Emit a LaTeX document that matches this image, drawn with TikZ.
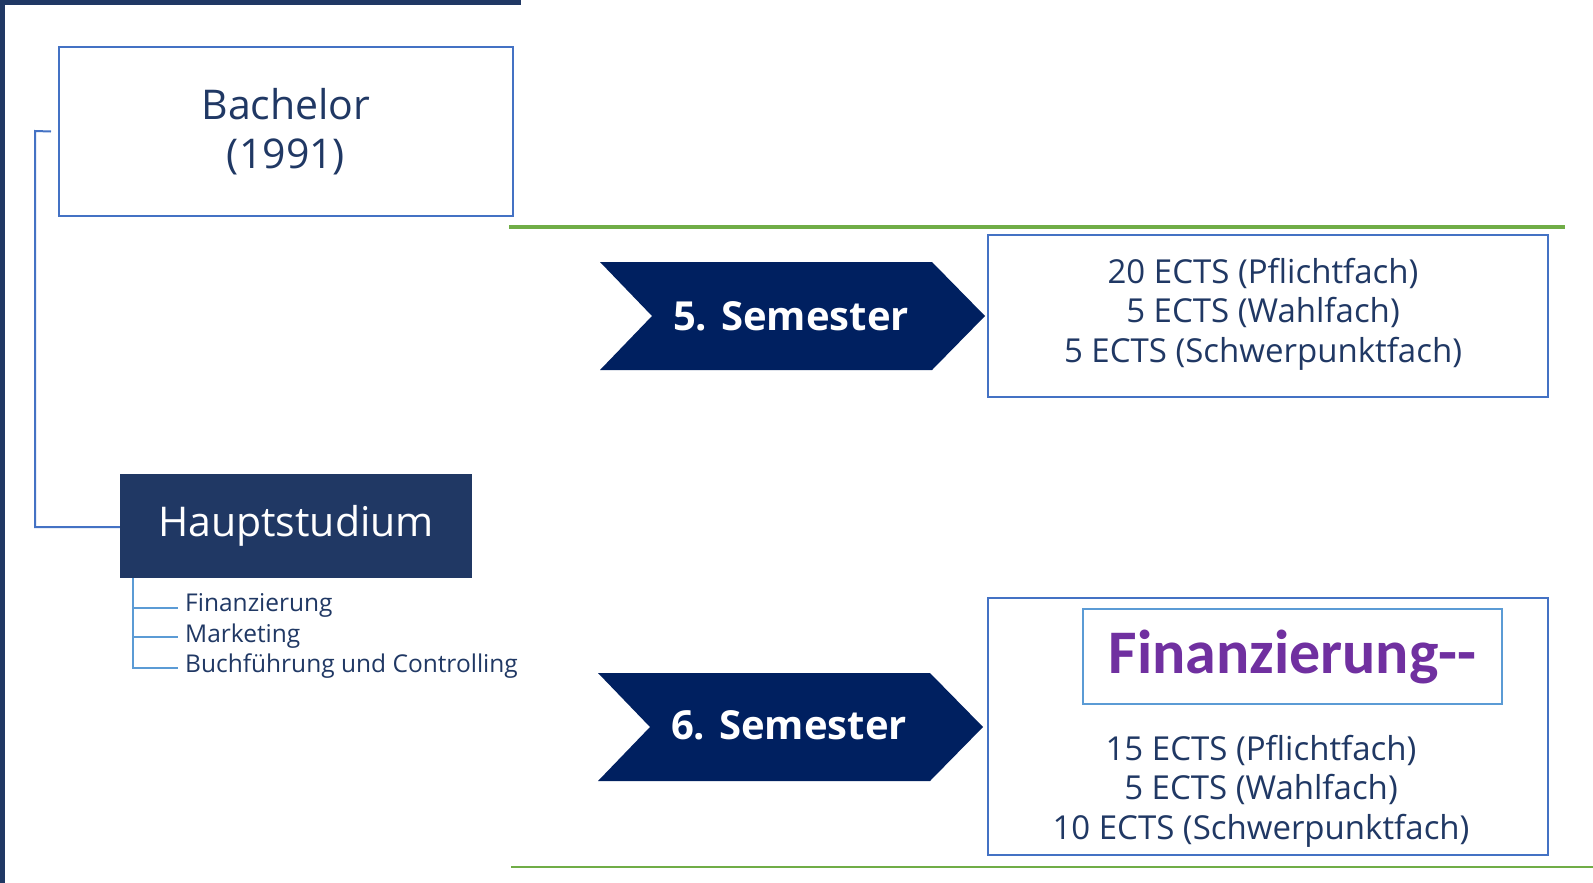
\documentclass[tikz,border=0pt]{standalone}
\usepackage{fontspec}
\setmainfont{Open Sans}
\newfontfamily\calib{Carlito}
\definecolor{navy}{HTML}{203864}
\definecolor{chev}{HTML}{002060}
\definecolor{boxblue}{HTML}{4472C4}
\definecolor{lightblue}{HTML}{5B9BD5}
\definecolor{grn}{HTML}{70AD47}
\definecolor{purp}{HTML}{7030A0}
\tikzset{
  outbox/.style={draw=boxblue, line width=2pt, rectangle, inner sep=0pt, align=center, text=navy},
  chevtext/.style={text=white, font=\fontsize{40}{46}\selectfont\bfseries},
  ectstext/.style={text=navy, align=center, font=\fontsize{33}{39.5}\selectfont},
  subtext/.style={text=navy, anchor=west, inner sep=0pt, font=\fontsize{24.5}{28}\selectfont},
  conn/.style={draw=boxblue, line width=2pt},
  subconn/.style={draw=lightblue, line width=1.8pt},
}
\begin{document}
\begin{tikzpicture}[x=1pt,y=-1pt]
\useasboundingbox (0,0) rectangle (1593,883);
\fill[white] (0,0) rectangle (1593,883);
% frame bars
\fill[navy] (0,0) rectangle (521,5);
\fill[navy] (0,0) rectangle (5,883);
% green lines
\draw[grn, line width=4pt] (509,227) -- (1565,227);
\draw[grn, line width=2pt] (511,867) -- (1593,867);
% Bachelor box
\node[outbox, minimum width=454pt, minimum height=169pt, font=\fontsize{41}{49}\selectfont] (bach) at (286,131.5) {Bachelor\\(1991)};
% Hauptstudium
\node[rectangle, fill=navy, minimum width=352pt, minimum height=104pt, inner sep=0pt, text=white, font=\fontsize{41}{48}\selectfont] (haupt) at (296,526) {Hauptstudium};
% connector bachelor -> haupt
\coordinate (c1) at (35,131);
\coordinate (c2) at (35,527);
\draw[conn] ([xshift=-7pt]bach.west) -- (c1) -- (c2) -- (haupt.west |- c2);
% sub items
\node[subtext] (s1) at (185,605) {Finanzierung};
\node[subtext] (s2) at (185,636) {Marketing};
\node[subtext] (s3) at (185,666) {Buchführung und Controlling};
\coordinate (v0) at (133,578);
\coordinate (b1) at (133,608);
\coordinate (b2) at (133,637);
\coordinate (b3) at (133,668);
\coordinate (e1) at (178,608);
\coordinate (e2) at (178,637);
\coordinate (e3) at (178,668);
\draw[subconn] (v0) -- (b3) -- (e3);
\draw[subconn] (b1) -- (e1);
\draw[subconn] (b2) -- (e2);
% chevrons
\fill[chev] (600,262) -- (932,262) -- (985,316) -- (932,370) -- (600,370) -- (652,316) -- cycle;
\node[chevtext] (sem5) at (791,316) {5. Semester};
\fill[chev] (598,673) -- (930,673) -- (983,727) -- (930,781) -- (598,781) -- (650,727) -- cycle;
\node[chevtext] (sem6) at (789,725) {6. Semester};
% ECTS box 1
\node[outbox, minimum width=560pt, minimum height=162pt] (box5) at (1268,316) {};
\node[ectstext] (t5) at (1263,314) {20 ECTS (Pflichtfach)\\5 ECTS (Wahlfach)\\5 ECTS (Schwerpunktfach)};
% ECTS box 2
\node[outbox, minimum width=560pt, minimum height=257pt] (box6) at (1268,726.5) {};
\node[draw=lightblue, line width=2pt, minimum width=419pt, minimum height=95pt, inner sep=0pt, text=purp, font=\calib\fontsize{62}{66}\selectfont\bfseries] (fin) at (1292.5,656.5) {Finanzierung--};
\node[ectstext] (t6) at (1261,791) {15 ECTS (Pflichtfach)\\5 ECTS (Wahlfach)\\10 ECTS (Schwerpunktfach)};
\end{tikzpicture}
\end{document}
